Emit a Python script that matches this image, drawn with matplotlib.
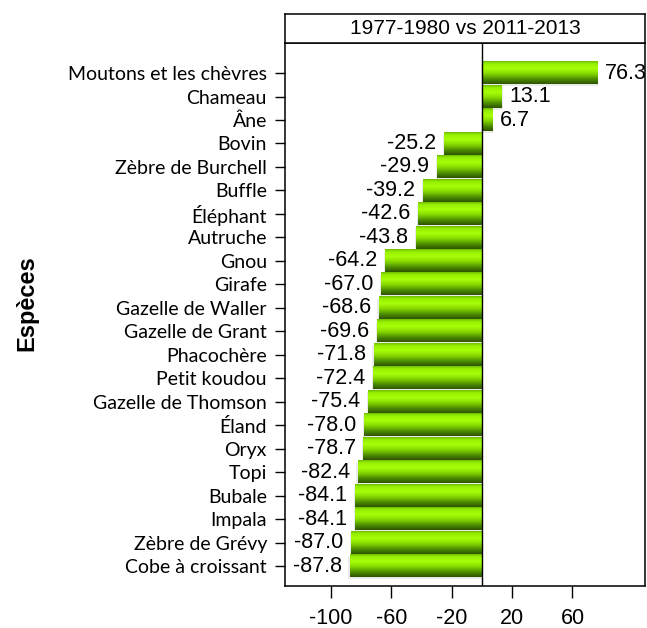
import numpy as np
import matplotlib
matplotlib.use("Agg")
from matplotlib import pyplot as plt
from matplotlib.colors import LinearSegmentedColormap
from matplotlib.patches import Rectangle

# donnees (de haut en bas)
especes = ["Moutons et les chèvres", "Chameau", "Âne", "Bovin", "Zèbre de Burchell",
           "Buffle", "Éléphant", "Autruche", "Gnou", "Girafe", "Gazelle de Waller",
           "Gazelle de Grant", "Phacochère", "Petit koudou", "Gazelle de Thomson",
           "Éland", "Oryx", "Topi", "Bubale", "Impala", "Zèbre de Grévy",
           "Cobe à croissant"]
valeurs = [76.3, 13.1, 6.7, -25.2, -29.9, -39.2, -42.6, -43.8, -64.2, -67.0, -68.6,
           -69.6, -71.8, -72.4, -75.4, -78.0, -78.7, -82.4, -84.1, -84.1, -87.0, -87.8]
xticks = [-100, -60, -20, 20, 60]
titre = "1977-1980 vs 2011-2013"

W, H = 647, 628
fig = plt.figure(figsize=(W / 100, H / 100), dpi=100)

# axes principal et bandeau du titre (en pixels)
ax = fig.add_axes([285 / W, 1 - 586 / H, 360 / W, (586 - 43) / H])
strip = fig.add_axes([285 / W, 1 - 43 / H, 360 / W, 29 / H])

# degrade vertical pour les barres (haut -> bas)
cmap = LinearSegmentedColormap.from_list("vert", [
    (0.0, "#6cbc00"), (0.1, "#95ee00"), (0.32, "#a8ff08"),
    (0.55, "#86d800"), (0.8, "#4b8a00"), (1.0, "#2e5400")])
grad = np.linspace(0, 1, 64).reshape(-1, 1)

h = 0.95
for i, v in enumerate(valeurs):
    x0, x1 = min(0, v), max(0, v)
    # ombre legere
    ax.add_patch(Rectangle((x0 - 0.8, i - h / 2 + 0.08), x1 - x0 + 1.6, h,
                           facecolor="#9a9a9a", alpha=0.2, edgecolor="none", zorder=1))
    ax.imshow(grad, cmap=cmap, aspect="auto", interpolation="bicubic",
              extent=(x0, x1, i + h / 2, i - h / 2), zorder=2)
    if v >= 0:
        ax.annotate(f"{v:.1f}", (v, i), xytext=(5.5, 0), textcoords="offset points",
                    ha="left", va="center", fontsize=15.5, family="Liberation Sans")
    else:
        ax.annotate(f"{v:.1f}", (v, i), xytext=(-5.5, 0), textcoords="offset points",
                    ha="right", va="center", fontsize=15.5, family="Liberation Sans")

ax.axvline(0, color="black", lw=1.0, zorder=3)
ax.set_xlim(-130.6, 108.1)
ax.set_ylim(21.85, -1.28)
ax.set_yticks(range(len(especes)))
ax.set_yticklabels(especes, family="Lato", fontsize=14)
ax.set_xticks(xticks)
ax.set_xticklabels([str(t) for t in xticks], family="Liberation Sans", fontsize=15.5)
ax.tick_params(axis="y", length=7, width=1, pad=6)
ax.tick_params(axis="x", length=8.5, width=1, pad=7)
for s in ax.spines.values():
    s.set_linewidth(1.1)

strip.set_xticks([])
strip.set_yticks([])
for s in strip.spines.values():
    s.set_linewidth(1.1)
strip.text(0.5, 0.5, titre, ha="center", va="center", fontsize=15,
           family="Liberation Sans", transform=strip.transAxes)

fig.text(27 / W, 1 - 303 / H, "Espèces", rotation=90, ha="center", va="center",
         fontsize=17, fontweight="bold", family="Liberation Sans")

fig.savefig("out.png", dpi=100)
